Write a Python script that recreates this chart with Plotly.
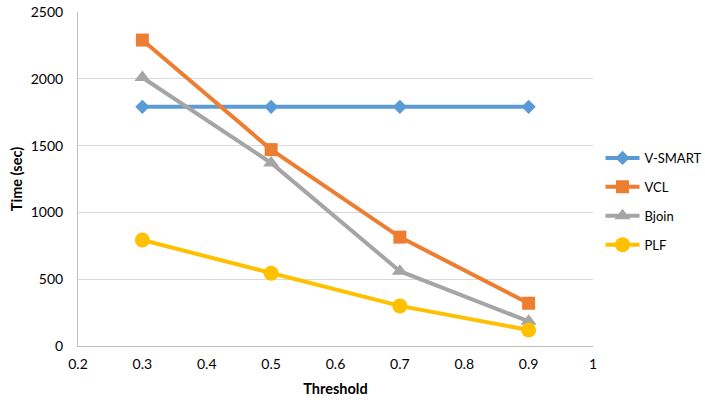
import plotly.graph_objects as go

thresholds = [0.3, 0.5, 0.7, 0.9]
vsmart = [1790, 1790, 1790, 1790]
vcl = [2290, 1470, 815, 320]
bjoin = [2010, 1370, 560, 185]
plf = [793, 544, 300, 120]

series = [
    ("V-SMART", vsmart, "#5B9BD5", "diamond", 11),
    ("VCL", vcl, "#ED7D31", "square", 13),
    ("Bjoin", bjoin, "#A5A5A5", "triangle-up", 14),
    ("PLF", plf, "#FFC000", "circle", 15),
]

fig = go.Figure()
for name, vals, color, sym, size in series:
    fig.add_trace(go.Scatter(
        x=thresholds, y=vals, name=name, mode="lines+markers",
        line=dict(color=color, width=4),
        marker=dict(symbol=sym, size=size, color=color),
        legendgroup=name,
    ))

font = "Lato, 'Liberation Sans', sans-serif"
fig.update_layout(
    width=705, height=403,
    margin=dict(l=78, r=112, t=12, b=57, autoexpand=False),
    paper_bgcolor="white", plot_bgcolor="white",
    font=dict(family=font, size=13, color="#000000"),
    showlegend=True,
    legend=dict(x=1.0146, y=0.4326, xanchor="left", yanchor="middle",
                font=dict(size=13, family=font), tracegroupgap=9,
                itemwidth=34, bgcolor="rgba(0,0,0,0)"),
    xaxis=dict(range=[0.2, 1.0], dtick=0.1, tick0=0.2, showgrid=False,
               showline=True, linecolor="#BFBFBF", linewidth=1,
               ticks="", tickfont=dict(size=14), zeroline=False,
               ticklabelstandoff=5,
               title=dict(text="<b>Threshold</b>", font=dict(size=14.5), standoff=13)),
    yaxis=dict(range=[0, 2500], dtick=500, showgrid=True, gridcolor="#D9D9D9",
               showline=True, linecolor="#BFBFBF", linewidth=1, zeroline=False,
               ticks="", tickfont=dict(size=14), ticklabelstandoff=11,
               title=dict(text="<b>Time (sec)</b>", font=dict(size=14.5), standoff=4)),
)

fig.write_html("out.html")
